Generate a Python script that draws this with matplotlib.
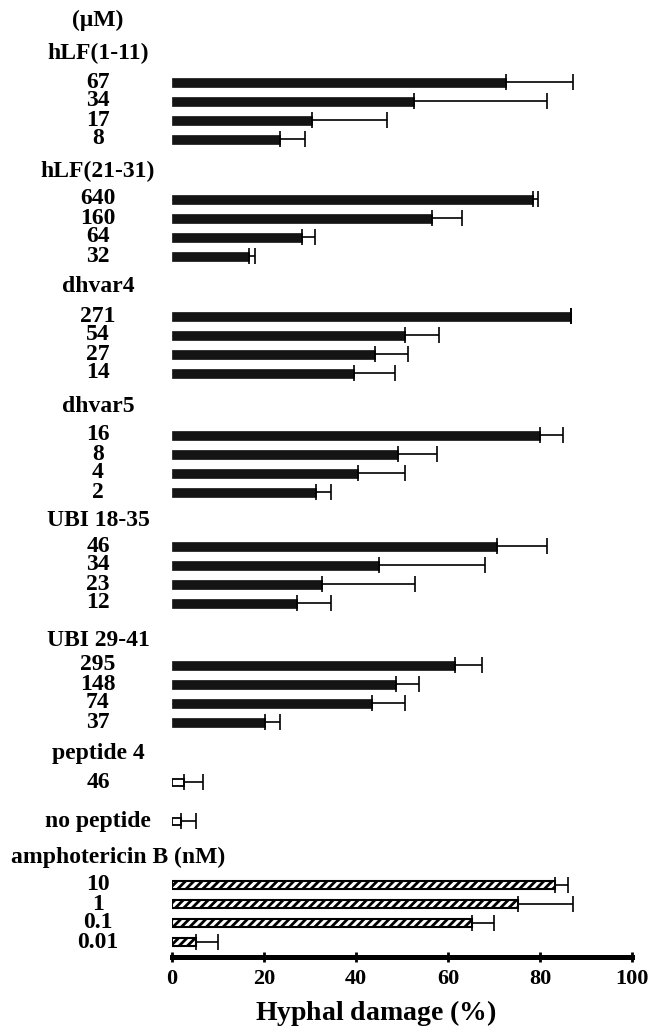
import matplotlib
matplotlib.use('Agg')
import matplotlib.pyplot as plt
from matplotlib.transforms import blended_transform_factory

# data (hyphal damage %, mean and upper error)
groups = ['hLF(1-11)', 'hLF(21-31)', 'dhvar4', 'dhvar5', 'UBI 18-35',
          'UBI 29-41', 'peptide 4', 'no peptide', 'amphotericin B (nM)']
doses = [['67', '34', '17', '8'],
         ['640', '160', '64', '32'],
         ['271', '54', '27', '14'],
         ['16', '8', '4', '2'],
         ['46', '34', '23', '12'],
         ['295', '148', '74', '37'],
         ['46'],
         [''],
         ['10', '1', '0.1', '0.01']]
damage = [[72.7, 52.7, 30.4, 23.4],
          [78.5, 56.5, 28.2, 16.7],
          [86.7, 50.7, 44.1, 39.5],
          [80.0, 49.2, 40.5, 31.3],
          [70.7, 45.1, 32.6, 27.1],
          [61.5, 48.6, 43.4, 20.2],
          [2.6],
          [1.9],
          [83.3, 75.2, 65.3, 5.2]]
err = [[14.5, 28.9, 16.4, 5.5],
       [1.0, 6.5, 2.9, 1.4],
       [0.1, 7.3, 7.1, 8.9],
       [5.0, 8.4, 10.1, 3.3],
       [10.8, 23.0, 20.2, 7.5],
       [5.9, 5.2, 7.2, 3.3],
       [4.1],
       [3.4],
       [2.7, 11.9, 4.6, 4.7]]
kinds = ['solid'] * 6 + ['open', 'open', 'hatch']

# layout in figure pixels (y grows downward)
W, H = 662, 1034
x0_px, x100_px = 172, 632
axis_px = 957
step = 19.0
header_gap = [29, 28, 29, 28, 25, 25, 29, 0, 28]
group_gap = [32, 31, 34, 29, 37, 31, 39, 36]

plt.rcParams['font.family'] = ['Liberation Serif', 'DejaVu Serif']
plt.rcParams['font.weight'] = 'bold'
plt.rcParams['hatch.linewidth'] = 2.0
plt.rcParams['mathtext.fontset'] = 'custom'
plt.rcParams['mathtext.it'] = 'Liberation Serif:italic:bold'
plt.rcParams['mathtext.rm'] = 'Liberation Serif:bold'

fig = plt.figure(figsize=(W / 100, H / 100), dpi=100)
ax = fig.add_axes([x0_px / W, (H - axis_px) / H, (x100_px - x0_px) / W, axis_px / H])
ax.set_xlim(0, 100)
ax.set_ylim(axis_px, 0)
lab = blended_transform_factory(fig.transFigure, ax.transData)
fs = 17

ax.text(98 / W, 20, '(\u03bcM)', transform=lab, ha='center', va='center', fontsize=fs)

y = 53
for gi, g in enumerate(groups):
    kind = kinds[gi]
    hx = 118 if kind == 'hatch' else 98
    ax.text(hx / W, y, g, transform=lab, ha='center', va='center', fontsize=fs)
    ys = [y + header_gap[gi] + i * step for i in range(len(damage[gi]))]
    if kind == 'solid':
        ax.barh(ys, damage[gi], height=9, color='#141414', edgecolor='#141414', lw=0.5)
    elif kind == 'open':
        ax.barh(ys, damage[gi], height=7, color='white', edgecolor='black', lw=1.3)
    else:
        ax.barh(ys, damage[gi], height=8, color='white', edgecolor='black', lw=1.5,
                hatch='////')
    ax.errorbar(damage[gi], ys, xerr=[[0] * len(ys), err[gi]], fmt='none',
                ecolor='black', elinewidth=1.2, capsize=5.5, capthick=1.2)
    for yy, d in zip(ys, doses[gi]):
        if d:
            ax.text(98 / W, yy, d, transform=lab, ha='center', va='center', fontsize=fs)
    if gi < len(group_gap):
        y = ys[-1] + group_gap[gi]

for s in ['top', 'right', 'left']:
    ax.spines[s].set_visible(False)
ax.spines['bottom'].set_linewidth(3.6)
ax.set_yticks([])
ax.set_xticks([0, 20, 40, 60, 80, 100])
ax.tick_params(axis='x', direction='inout', length=7, width=2, labelsize=16, pad=5)
for t in ax.get_xticklabels():
    t.set_fontweight('bold')
ax.set_xlabel(r'Hyphal damage ($\mathit{\%}$)', fontsize=20, fontweight='bold', va='center')
ax.xaxis.set_label_coords((376 - x0_px) / (x100_px - x0_px), -(1013 - axis_px) / axis_px)

fig.savefig('out.png', dpi=100)
